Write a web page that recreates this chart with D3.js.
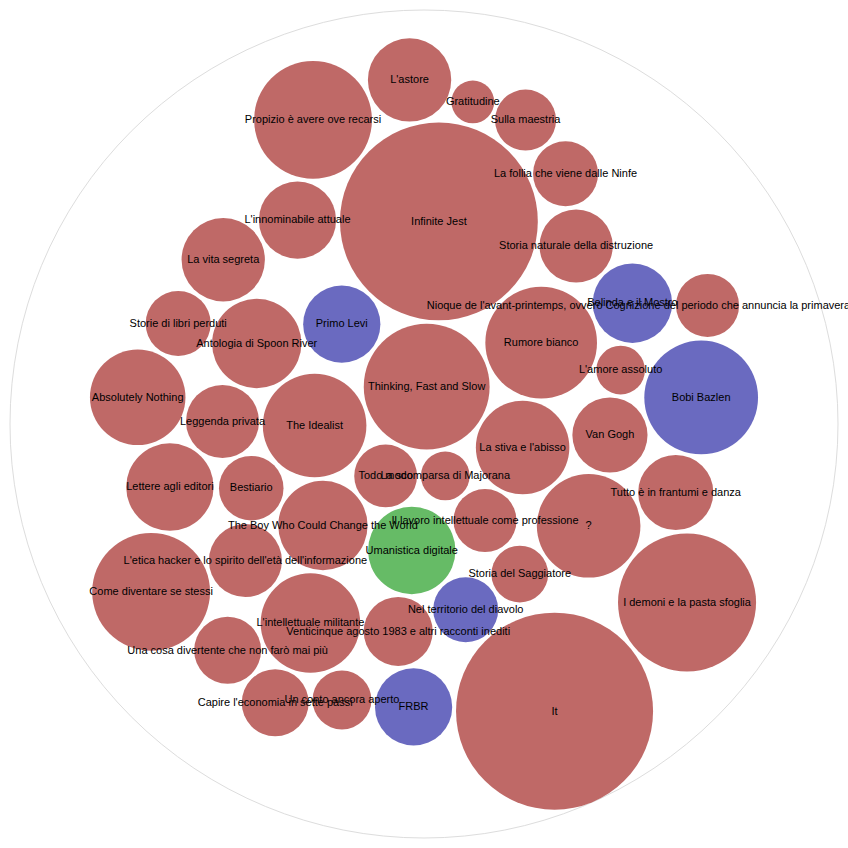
<!DOCTYPE html>
<html>
<head>
<meta charset="utf-8">
<style>
  body { margin: 0; background: #fff; }
  text { font: 11px "Liberation Sans", Arial, sans-serif; fill: #000; }
</style>
</head>
<body>
<svg id="chart" width="848" height="848"></svg>
<script src="https://d3js.org/d3.v7.min.js"></script>
<script>

// Libri (ordine originale dei dati), pagine e gruppo colore
var titles = [
  "Todo modo", "La scomparsa di Majorana", "Thinking, Fast and Slow", "The Idealist",
  "The Boy Who Could Change the World", "Umanistica digitale", "Il lavoro intellettuale come professione",
  "La stiva e l'abisso", "Rumore bianco", "Infinite Jest", "Primo Levi", "Antologia di Spoon River",
  "Leggenda privata", "Bestiario", "L'etica hacker e lo spirito dell'età dell'informazione",
  "L'intellettuale militante", "Venticinque agosto 1983 e altri racconti inediti", "Nel territorio del diavolo",
  "Storia del Saggiatore", "?", "Van Gogh", "L'amore assoluto", "Belinda e il Mostro",
  "Storia naturale della distruzione", "La follia che viene dalle Ninfe", "Sulla maestria", "Gratitudine",
  "L'astore", "Propizio è avere ove recarsi", "L'innominabile attuale", "La vita segreta",
  "Storie di libri perduti", "Absolutely Nothing", "Lettere agli editori", "Come diventare se stessi",
  "Una cosa divertente che non farò mai più", "Capire l'economia in sette passi", "Un conto ancora aperto",
  "FRBR", "It", "I demoni e la pasta sfoglia", "Tutto è in frantumi e danza", "Bobi Bazlen",
  "Nioque de l'avant-printemps, ovvero Cognizione del periodo che annuncia la primavera / Nioque of the Early-Spring"
];
var pages = [
  125, 75, 502, 340,
  253, 242, 126,
  277, 395, 1240, 189, 253,
  169, 132, 169,
  314, 151, 134,
  102, 340, 179, 75, 200,
  170, 134, 118, 58,
  220, 440, 189, 220,
  134, 289, 242, 440,
  142, 142, 110,
  189, 1230, 604, 179, 410,
  126
];
var groups = [
  "r", "r", "r", "r",
  "r", "g", "r",
  "r", "r", "r", "b", "r",
  "r", "r", "r",
  "r", "r", "b",
  "r", "r", "r", "r", "b",
  "r", "r", "r", "r",
  "r", "r", "r", "r",
  "r", "r", "r", "r",
  "r", "r", "r",
  "b", "r", "r", "r", "b",
  "r"
];

var diameter = 828, padding = 4;

var color = d3.scaleOrdinal()
    .domain(["r", "b", "g"])
    .range(["#bf6967", "#6a6ac0", "#66bb66"]);
var radius = d3.scaleSqrt().domain([0, 1]).range([0, 1]);

// pack alla vecchia maniera (catena frontale, come d3.layout.pack v3, sort(null))
function packSiblings(nodes) {
  var xMin = Infinity, xMax = -Infinity, yMin = Infinity, yMax = -Infinity, a, b, c, i, j, k, n = nodes.length;
  function bound(d) {
    xMin = Math.min(d.x - d.r, xMin); xMax = Math.max(d.x + d.r, xMax);
    yMin = Math.min(d.y - d.r, yMin); yMax = Math.max(d.y + d.r, yMax);
  }
  function insert(a, b) { var c = a.next; a.next = b; b.prev = a; b.next = c; c.prev = b; }
  function splice(a, b) { a.next = b; b.prev = a; }
  function intersects(a, b) {
    var dx = b.x - a.x, dy = b.y - a.y, dr = a.r + b.r;
    return .999 * dr * dr > dx * dx + dy * dy;
  }
  function place(a, b, c) {
    var db = a.r + c.r, dx = b.x - a.x, dy = b.y - a.y;
    if (db && (dx || dy)) {
      var da = b.r + c.r, dc = dx * dx + dy * dy;
      da *= da; db *= db;
      var x = .5 + (db - da) / (2 * dc),
          y = Math.sqrt(Math.max(0, 2 * da * (db + dc) - (db -= dc) * db - da * da)) / (2 * dc);
      c.x = a.x + x * dx + y * dy;
      c.y = a.y + x * dy - y * dx;
    } else {
      c.x = a.x + db; c.y = a.y;
    }
  }
  nodes.forEach(function(d) { d.next = d.prev = d; });
  a = nodes[0]; a.x = -a.r; a.y = 0; bound(a);
  b = nodes[1]; b.x = b.r; b.y = 0; bound(b);
  c = nodes[2]; place(a, b, c); bound(c);
  insert(a, c); a.prev = c; insert(c, b);
  b = a.next;
  for (i = 3; i < n; i++) {
    place(a, b, c = nodes[i]);
    var isect = 0, s1 = 1, s2 = 1;
    for (j = b.next; j !== b; j = j.next, s1++) {
      if (intersects(j, c)) { isect = 1; break; }
    }
    if (isect == 1) {
      for (k = a.prev; k !== j.prev; k = k.prev, s2++) {
        if (intersects(k, c)) break;
      }
    }
    if (isect) {
      if (s1 < s2 || (s1 == s2 && b.r < a.r)) splice(a, b = j);
      else splice(a = k, b);
      i--;
    } else {
      insert(a, c); b = c; bound(c);
    }
  }
  var cx = (xMin + xMax) / 2, cy = (yMin + yMax) / 2, cr = 0;
  nodes.forEach(function(d) {
    d.x -= cx; d.y -= cy;
    cr = Math.max(cr, d.r + Math.sqrt(d.x * d.x + d.y * d.y));
  });
  return cr;
}

var nodes = titles.map(function(t, i) {
  return { title: t, value: pages[i], group: groups[i], r: radius(pages[i]) };
});

var rootR = packSiblings(nodes);
var dr = padding * (2 * rootR / diameter) / 2;
nodes.forEach(function(d) { d.r += dr; });
rootR = packSiblings(nodes);
nodes.forEach(function(d) { d.r -= dr; });
rootR -= dr;
var k = diameter / (2 * rootR);
nodes.forEach(function(d) {
  d.x = diameter / 2 + k * d.x;
  d.y = diameter / 2 + k * d.y;
  d.r *= k;
});

var svg = d3.select("#chart"),
    g = svg.append("g").attr("transform", "translate(10,10)");

g.append("circle")
    .attr("cx", diameter / 2)
    .attr("cy", diameter / 2)
    .attr("r", diameter / 2)
    .attr("fill", "#fff")
    .attr("stroke", "#ddd");

g.selectAll(".node")
    .data(nodes)
  .enter().append("circle")
    .attr("class", "node")
    .attr("cx", function(d) { return d.x; })
    .attr("cy", function(d) { return d.y; })
    .attr("r", function(d) { return d.r; })
    .attr("fill", function(d) { return color(d.group); });

g.selectAll(".label")
    .data(nodes)
  .enter().append("text")
    .attr("class", "label")
    .attr("x", function(d) { return d.x; })
    .attr("y", function(d) { return d.y; })
    .attr("dy", ".3em")
    .style("text-anchor", "middle")
    .text(function(d) { return d.title; });

</script>
</body>
</html>
